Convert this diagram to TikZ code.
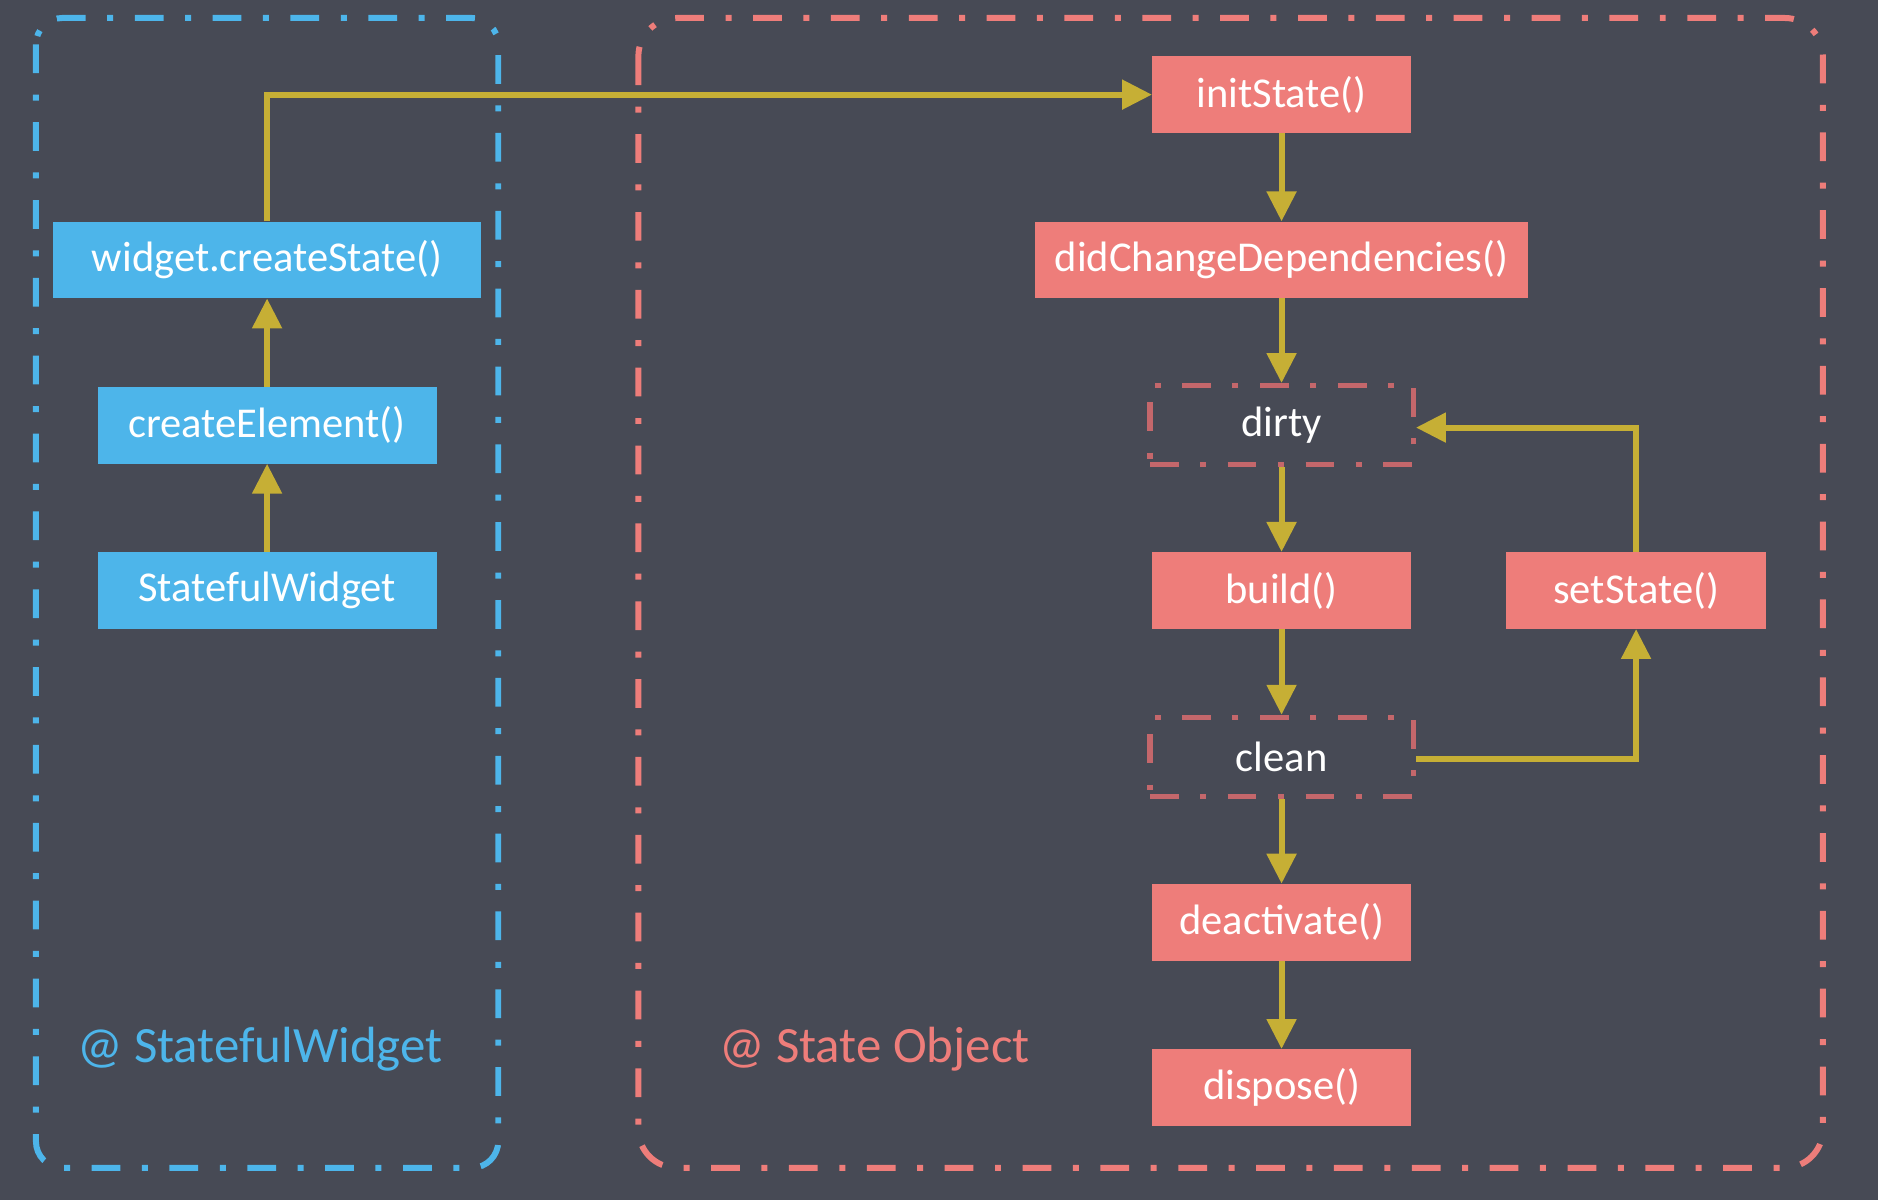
\documentclass[tikz,border=0pt]{standalone}
\usepackage{fontspec}
\setmainfont{Carlito}
\usetikzlibrary{arrows.meta}
\definecolor{bgc}{HTML}{474A55}
\definecolor{bluec}{HTML}{4DB5EA}
\definecolor{redc}{HTML}{EE7D7A}
\definecolor{yelc}{HTML}{C6AF35}
\definecolor{dashc}{HTML}{C4676B}
\tikzset{
  box/.style={rectangle, inner sep=0pt, text=white, font=\fontsize{35.5}{40}\selectfont, minimum height=64pt},
  bluebox/.style={box, fill=bluec},
  redbox/.style={box, fill=redc},
  statebox/.style={box, draw=dashc, line width=4.5pt, dash pattern=on 24pt off 18pt on 5pt off 18pt, minimum width=220pt, minimum height=66pt},
  arr/.style={draw=yelc, line width=5pt, -{Triangle[width=24pt,length=25pt]}},
  groupline/.style={line width=5pt, dash pattern=on 24pt off 18pt on 5pt off 18pt},
  grouplabel/.style={font=\fontsize{42.5}{48}\selectfont}
}
\begin{document}
\begin{tikzpicture}[x=1pt,y=-1pt]
\fill[bgc] (0,0) rectangle (1568,1002);
\useasboundingbox (0,0) rectangle (1568,1002);
% group frames
\draw[groupline, bluec, rounded corners=22pt] (30,15) rectangle (416,975);
\draw[groupline, redc, rounded corners=32pt] (533,15) rectangle (1522,975);
\node[grouplabel, text=bluec] (lblw) at (217,876) {@ StatefulWidget};
\node[grouplabel, text=redc] (lbls) at (730,876) {@ State Object};
% left column
\node[bluebox, minimum width=358pt] (cs) at (223,217) {widget.createState()};
\node[bluebox, minimum width=283pt] (ce) at (223,355) {createElement()};
\node[bluebox, minimum width=283pt] (sw) at (223,493) {StatefulWidget};
% right column
\node[redbox, minimum width=216pt] (is) at (1070,79) {initState()};
\node[redbox, minimum width=411pt] (dcd) at (1070,217) {didChangeDependencies()};
\node[statebox] (dirty) at (1070,355) {dirty};
\node[redbox, minimum width=216pt] (bd) at (1070,493) {build()};
\node[redbox, minimum width=217pt] (ss) at (1366,493) {setState()};
\node[statebox] (clean) at (1070,632) {clean};
\node[redbox, minimum width=216pt] (da) at (1070,770) {deactivate()};
\node[redbox, minimum width=216pt] (dp) at (1070,908) {dispose()};
% connectors
\draw[arr] (sw.north) -- (ce.south);
\draw[arr] (ce.north) -- (cs.south);
\draw[arr] (cs.north) |- (is.west);
\draw[arr] (is.south) -- (dcd.north);
\draw[arr] (dcd.south) -- (dirty.north);
\draw[arr] (dirty.south) -- (bd.north);
\draw[arr] (bd.south) -- (clean.north);
\draw[arr] (clean.south) -- (da.north);
\draw[arr] (da.south) -- (dp.north);
\draw[arr] (ss.north) |- ([yshift=-2pt]dirty.east);
\draw[arr] ([yshift=-2pt]clean.east) -| (ss.south);
\end{tikzpicture}
\end{document}
